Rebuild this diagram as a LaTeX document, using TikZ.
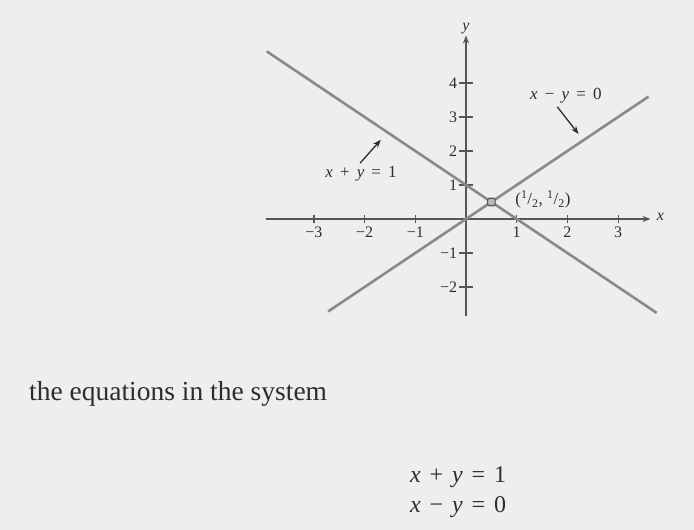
\documentclass[tikz,border=0pt]{standalone}
\usepackage{fontspec}
\setmainfont{Liberation Serif}
\usetikzlibrary{arrows.meta}
\definecolor{paper}{RGB}{238,238,238}
\definecolor{ink}{RGB}{45,45,48}
\definecolor{axisc}{RGB}{85,85,90}
\definecolor{linec}{RGB}{140,135,145}
\tikzset{
  axisline/.style={draw=axisc, line width=1.4pt, -{Stealth[length=8pt,width=6pt]}},
  graphline/.style={draw=linec, line width=2.6pt},
  labarrow/.style={draw=ink, line width=1.3pt, -{Stealth[length=8pt,width=6pt]}},
  ticklab/.style={text=ink, font=\fontsize{16}{18}\selectfont, inner sep=1pt},
  eqlab/.style={text=ink, font=\fontsize{17}{19}\selectfont, inner sep=0pt},
  syseq/.style={text=ink, font=\fontsize{24}{27}\selectfont, inner sep=0pt},
  bodytext/.style={text=ink, font=\fontsize{27.5}{30}\selectfont, inner sep=0pt}
}
\newcommand{\vx}{\textit{x}}
\newcommand{\vy}{\textit{y}}
\newcommand{\eqsp}{\hspace{0.42em}}
\newcommand{\syssp}{\hspace{0.37em}}
\begin{document}
\begin{tikzpicture}[x=1pt,y=-1pt]
\fill[paper] (0,0) rectangle (694,530);
\useasboundingbox (0,0) rectangle (694,530);
\begin{scope}[shift={(466,219)}, x=50.7pt, y=34pt]
  % axes
  \coordinate (xl) at (-3.95,0);
  \coordinate (xr) at (3.64,0);
  \coordinate (yb) at (0,-2.86);
  \coordinate (yt) at (0,5.4);
  \draw[axisline] (xl) -- (xr);
  \draw[axisline] (yb) -- (yt);
  \node[ticklab, anchor=west] (xlab) at (3.74,0.05) {\vx};
  \node[ticklab, anchor=south] (ylab) at (0,5.42) {\vy};
  % ticks
  \foreach \t in {-3,-2,-1,1,2,3} {
    \draw[axisc, line width=1.2pt] (\t,-0.13) -- (\t,0.13);
    \node[ticklab, anchor=north] at (\t,-0.2) {\ifnum\t<0 −\the\numexpr-\t\relax\else\t\fi};
  }
  \foreach \t in {-2,-1,1,2,3,4} {
    \draw[axisc, line width=1.2pt] (-0.14,\t) -- (0.14,\t);
    \node[ticklab, anchor=east] at (-0.15,\t) {\ifnum\t<0 −\the\numexpr-\t\relax\else\t\fi};
  }
  % lines
  \coordinate (a1) at (-3.93,4.93);
  \coordinate (a2) at (3.76,-2.76);
  \coordinate (b1) at (-2.72,-2.72);
  \coordinate (b2) at (3.6,3.6);
  \draw[graphline] (a1) -- (a2);
  \draw[graphline] (b1) -- (b2);
  % intersection marker
  \node[draw=axisc, fill=linec!60, line width=1.2pt, minimum size=7.5pt, inner sep=0pt, rounded corners=1.5pt] (p) at (0.5,0.5) {};
  \node[eqlab, anchor=west] (plab) at (0.97,0.58) {(\textsuperscript{1}/\textsubscript{2}, \textsuperscript{1}/\textsubscript{2})};
  % labels
  \node[eqlab] (l1) at (-2.07,1.33) {\vx\eqsp+\eqsp\vy\eqsp=\eqsp1};
  \node[eqlab] (l2) at (1.97,3.64) {\vx\eqsp−\eqsp\vy\eqsp=\eqsp0};
  \coordinate (l1s) at (-2.09,1.64);
  \coordinate (l1e) at (-1.68,2.33);
  \coordinate (l2s) at (1.80,3.30);
  \coordinate (l2e) at (2.22,2.50);
  \draw[labarrow] (l1s) -- (l1e);
  \draw[labarrow] (l2s) -- (l2e);
\end{scope}
\node[bodytext, anchor=base west] (body) at (29,400) {the equations in the system};
\node[syseq, anchor=base west] (e1) at (410,482) {\vx\syssp+\syssp\vy\syssp=\syssp1};
\node[syseq, anchor=base west] (e2) at (410,512) {\vx\syssp−\syssp\vy\syssp=\syssp0};
\end{tikzpicture}
\end{document}
